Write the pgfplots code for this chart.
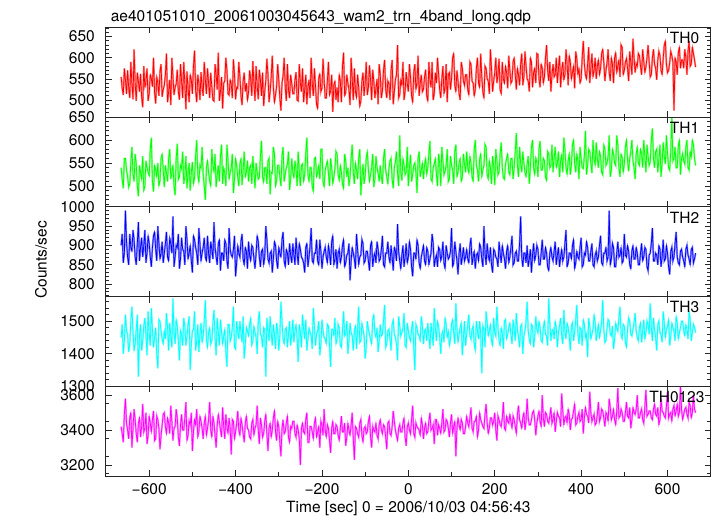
\documentclass[border=0pt]{standalone}
\usepackage{pgfplots}
\pgfplotsset{compat=1.18}
\usepackage{pgfplotstable}
\usepackage{fontspec}
\setmainfont{TeX Gyre Heros}
\newcommand{\qfont}{\fontsize{15.5bp}{18bp}\selectfont}

\pgfplotstableread{
t a b c d e
-665 555 540 900 1450 3420
-662.5 528 515 930 1490 3380
-660 512 495 855 1400 3330
-657.5 575 560 880 1440 3490
-655 548 560 990 1520 3580
-652.5 515 535 910 1470 3440
-650 570 520 870 1460 3400
-647.5 530 498 850 1405 3350
-645 505 505 930 1430 3470
-642.5 590 550 895 1500 3500
-640 538 585 885 1545 3300
-637.5 502 525 940 1465 3410
-635 620 510 915 1410 3520
-632.5 540 570 870 1430 3460
-630 498 548 850 1475 3380
-627.5 565 500 905 1520 3330
-625 545 478 960 1330 3440
-622.5 520 545 860 1455 3470
-620 562 530 895 1490 3360
-617.5 508 515 920 1410 3420
-615 483 565 870 1440 3550
-612.5 580 490 900 1485 3390
-610 530 500 940 1510 3410
-607.5 545 555 855 1460 3500
-605 575 540 880 1395 3320
-602.5 498 530 925 1530 3370
-600 515 522 905 1465 3480
-597.5 560 580 870 1425 3440
-595 551 605 845 1540 3390
-592.5 532 510 895 1475 3460
-590 600 488 925 1420 3510
-587.5 518 545 935 1450 3340
-585 492 535 890 1480 3350
-582.5 555 520 860 1400 3480
-580 540 550 950 1355 3460
-577.5 510 500 905 1505 3410
-575 568 512 865 1500 3290
-572.5 585 560 880 1470 3370
-570 508 570 910 1445 3430
-567.5 525 535 855 1430 3490
-565 535 498 880 1470 3500
-562.5 560 545 905 1445 3420
-560 610 528 935 1525 3380
-557.5 495 510 870 1480 3470
-555 520 560 860 1410 3440
-552.5 548 580 920 1495 3380
-550 488 515 905 1455 3540
-547.5 600 530 880 1420 3450
-545 556 545 975 1570 3340
-542.5 512 500 845 1465 3410
-540 530 480 870 1430 3420
-537.5 538 560 900 1505 3520
-535 572 592 895 1485 3470
-532.5 520 515 930 1440 3360
-530 501 520 840 1380 3310
-527.5 585 545 865 1470 3430
-525 545 538 920 1460 3490
-522.5 505 575 890 1425 3400
-520 590 505 885 1510 3400
-517.5 540 520 850 1485 3470
-515 478 565 950 1425 3560
-512.5 568 495 915 1455 3340
-510 528 530 865 1490 3370
-507.5 495 550 880 1515 3450
-505 560 490 900 1350 3430
-502.5 548 530 860 1430 3500
-500 515 552 830 1470 3280
-497.5 580 505 925 1475 3390
-495 617 518 915 1530 3460
-492.5 522 565 895 1410 3430
-490 495 600 880 1440 3520
-487.5 560 525 850 1490 3360
-485 540 508 945 1405 3390
-482.5 500 545 905 1460 3480
-480 566 540 860 1495 3450
-477.5 530 585 880 1435 3410
-475 510 525 895 1455 3350
-472.5 590 500 920 1500 3440
-470 548 470 870 1565 3480
-467.5 515 540 860 1445 3370
-465 575 555 925 1420 3410
-462.5 540 530 880 1465 3460
-460 505 512 855 1480 3560
-457.5 565 500 910 1430 3400
-455 532 580 890 1440 3360
-452.5 500 545 865 1495 3480
-450 498 530 960 1535 3440
-447.5 585 570 895 1450 3370
-445 560 498 870 1395 3300
-442.5 525 525 850 1510 3430
-440 612 545 905 1465 3490
-437.5 498 510 915 1425 3450
-435 520 565 835 1505 3400
-432.5 555 590 880 1470 3360
-430 480 505 880 1430 3530
-427.5 540 540 860 1455 3420
-425 545 528 915 1475 3350
-422.5 600 500 905 1405 3490
-420 570 590 860 1360 3420
-417.5 515 555 840 1490 3380
-415 512 515 945 1490 3470
-412.5 548 530 890 1440 3410
-410 538 540 875 1450 3260
-407.5 505 570 870 1480 3460
-405 596 485 890 1545 3450
-402.5 560 515 925 1420 3350
-400 502 560 820 1415 3390
-397.5 530 545 855 1500 3440
-395 528 520 900 1470 3510
-392.5 590 500 880 1445 3400
-390 555 548 870 1500 3370
-387.5 510 560 910 1465 3470
-385 488 502 930 1435 3430
-382.5 545 535 865 1515 3380
-380 565 575 850 1385 3330
-377.5 520 520 895 1430 3440
-375 540 530 885 1480 3480
-372.5 500 555 840 1470 3410
-370 518 510 910 1455 3400
-367.5 570 540 875 1490 3360
-365 550 545 860 1510 3350
-362.5 510 505 900 1425 3440
-360 592 565 895 1440 3460
-357.5 540 530 865 1485 3370
-355 498 495 840 1465 3410
-352.5 580 550 880 1450 3430
-350 535 530 925 1400 3540
-347.5 502 515 910 1500 3400
-345 572 518 870 1530 3320
-342.5 548 565 845 1460 3470
-340 510 598 885 1455 3430
-337.5 565 520 890 1420 3360
-335 486 508 850 1480 3380
-332.5 520 540 870 1475 3450
-330 546 540 950 1330 3490
-327.5 598 505 915 1510 3380
-325 560 555 865 1470 3280
-322.5 495 560 855 1440 3410
-320 520 482 880 1515 3440
-317.5 555 530 885 1465 3360
-315 605 528 830 1425 3400
-312.5 530 585 865 1490 3470
-310 495 570 910 1460 3510
-307.5 512 500 900 1415 3390
-305 532 512 860 1495 3340
-302.5 585 545 840 1470 3450
-300 548 545 895 1410 3420
-297.5 505 520 880 1455 3330
-295 475 500 870 1560 3250
-292.5 540 565 915 1500 3410
-290 558 585 935 1445 3460
-287.5 600 510 860 1430 3380
-285 530 525 845 1475 3390
-282.5 498 540 890 1480 3440
-280 585 548 880 1420 3480
-277.5 525 575 850 1460 3360
-275 505 492 905 1500 3330
-272.5 560 515 875 1425 3420
-270 540 560 855 1460 3410
-267.5 515 530 905 1505 3450
-265 515 518 875 1435 3450
-262.5 548 555 850 1470 3380
-260 566 535 920 1490 3360
-257.5 500 500 880 1450 3430
-255 498 575 850 1375 3400
-252.5 585 530 905 1490 3350
-250 540 500 890 1465 3200
-247.5 520 545 870 1420 3410
-245 575 548 865 1520 3440
-242.5 495 510 855 1475 3390
-240 525 525 830 1445 3380
-237.5 560 570 895 1505 3460
-235 490 605 905 1410 3500
-232.5 530 525 845 1445 3330
-230 548 510 870 1480 3330
-227.5 505 540 900 1465 3420
-225 600 540 945 1455 3420
-222.5 540 500 860 1415 3390
-220 510 488 855 1540 3350
-217.5 575 560 880 1485 3440
-215 535 562 880 1425 3470
-212.5 490 520 915 1460 3360
-210 480 530 860 1470 3390
-207.5 552 545 850 1500 3420
-205 562 515 915 1395 3300
-202.5 520 580 885 1430 3450
-200 528 580 840 1505 3430
-197.5 598 510 870 1470 3370
-195 548 498 885 1450 3520
-192.5 505 535 895 1445 3400
-190 505 545 870 1430 3360
-187.5 545 555 855 1490 3430
-185 590 528 900 1485 3410
-182.5 512 500 880 1425 3340
-180 522 560 850 1360 3270
-177.5 560 540 910 1475 3410
-175 472 505 925 1475 3450
-172.5 535 520 850 1455 3380
-170 545 538 865 1510 3380
-167.5 500 575 890 1430 3430
-165 530 570 840 1445 3420
-162.5 495 525 880 1490 3370
-160 560 512 890 1480 3340
-157.5 545 545 855 1425 3410
-155 495 530 870 1420 3480
-152.5 580 505 900 1470 3390
-150 612 495 915 1530 3390
-147.5 510 570 845 1455 3440
-145 518 555 855 1460 3310
-142.5 560 520 875 1500 3360
-140 540 540 880 1400 3440
-137.5 525 500 905 1440 3400
-135 488 520 810 1495 3370
-132.5 600 560 860 1465 3430
-130 552 590 895 1455 3500
-127.5 500 530 880 1410 3350
-125 575 505 865 1470 3230
-122.5 520 550 840 1485 3420
-120 506 535 930 1415 3410
-117.5 560 515 890 1475 3380
-115 530 560 850 1545 3360
-112.5 485 580 870 1435 3440
-110 498 480 875 1440 3460
-107.5 545 520 915 1495 3370
-105 565 548 905 1475 3330
-102.5 510 505 855 1455 3410
-100 540 522 860 1385 3420
-97.5 590 560 885 1420 3380
-95 512 575 885 1500 3390
-92.5 530 535 860 1475 3450
-90 582 510 835 1460 3480
-87.5 548 525 900 1445 3360
-85 500 540 910 1430 3300
-82.5 572 570 845 1505 3420
-80 545 498 870 1520 3400
-77.5 505 515 880 1465 3390
-75 528 565 855 1450 3440
-72.5 550 540 910 1480 3370
-70 490 528 890 1405 3350
-67.5 585 510 860 1440 3430
-65 560 545 865 1490 3460
-62.5 505 520 890 1455 3400
-60 522 505 925 1460 3380
-57.5 570 560 850 1500 3430
-55 595 580 845 1550 3420
-52.5 525 535 880 1420 3360
-50 505 520 880 1430 3290
-47.5 545 505 910 1470 3440
-45 538 538 870 1475 3450
-42.5 500 555 855 1445 3380
-40 570 560 900 1410 3370
-37.5 595 515 870 1490 3420
-35 490 495 835 1505 3510
-32.5 520 540 895 1460 3450
-30 548 552 885 1450 3400
-27.5 560 575 860 1430 3370
-25 630 528 955 1380 3340
-22.5 505 500 885 1515 3410
-20 512 610 860 1485 3430
-17.5 548 530 840 1455 3390
-15 535 512 875 1465 3390
-12.5 590 560 900 1480 3440
-10 500 545 845 1525 3470
-7.5 520 525 870 1425 3360
-5 566 530 905 1420 3310
-2.5 540 585 855 1495 3420
0 520 500 870 1470 3440
2.5 585 540 910 1450 3400
5 555 568 890 1440 3380
7.5 510 510 845 1475 3460
10 495 525 820 1500 3540
12.5 565 545 880 1420 3380
15 585 550 880 1350 3360
17.5 525 530 865 1490 3440
20 540 485 915 1480 3420
22.5 605 560 900 1460 3410
25 510 575 855 1455 3400
27.5 540 520 840 1440 3370
30 560 535 870 1515 3470
32.5 520 550 885 1485 3430
35 525 515 900 1430 3350
37.5 555 545 860 1470 3410
40 572 560 850 1475 3440
42.5 510 525 895 1440 3380
45 498 540 885 1495 3390
47.5 590 570 850 1455 3450
50 548 598 865 1415 3500
52.5 530 515 880 1495 3400
55 590 510 930 1460 3410
57.5 500 540 905 1425 3430
60 515 548 845 1540 3320
62.5 565 560 865 1480 3460
65 540 525 875 1440 3460
67.5 600 500 845 1500 3370
70 562 570 895 1485 3430
72.5 525 550 890 1450 3410
75 505 500 860 1400 3380
77.5 550 585 875 1460 3440
80 580 555 910 1470 3520
82.5 515 525 855 1435 3390
85 530 532 840 1510 3400
87.5 585 545 900 1490 3460
90 495 580 880 1450 3450
92.5 560 510 865 1470 3410
95 565 515 870 1425 3360
97.5 525 565 885 1445 3440
100 550 545 945 1490 3490
102.5 600 535 845 1505 3380
105 610 505 855 1465 3420
107.5 535 575 910 1430 3450
110 520 590 885 1555 3250
112.5 570 520 860 1475 3410
115 545 530 825 1435 3470
117.5 515 550 880 1460 3430
120 500 560 905 1480 3400
122.5 590 510 850 1495 3460
125 575 520 870 1395 3440
127.5 545 570 895 1450 3380
130 535 548 860 1500 3380
132.5 560 530 870 1425 3420
135 560 575 890 1460 3480
137.5 525 540 865 1490 3440
140 512 528 855 1520 3420
142.5 590 565 900 1455 3470
145 585 550 920 1445 3530
147.5 545 520 850 1475 3410
150 540 510 870 1485 3390
152.5 510 580 885 1430 3450
155 525 600 840 1410 3450
157.5 575 545 875 1500 3480
160 600 535 880 1470 3360
162.5 540 510 860 1445 3400
165 530 558 905 1500 3500
167.5 610 570 895 1465 3460
170 555 520 865 1340 3440
172.5 520 535 845 1485 3420
175 505 545 950 1475 3410
177.5 580 590 880 1420 3490
180 575 585 850 1530 3550
182.5 550 525 905 1495 3440
185 545 515 875 1455 3380
187.5 515 555 860 1470 3410
190 620 540 895 1490 3470
192.5 575 505 850 1440 3470
195 520 565 830 1425 3430
197.5 545 545 890 1510 3450
200 565 502 885 1465 3500
202.5 600 580 870 1455 3400
205 540 555 865 1545 3340
207.5 560 525 845 1480 3480
210 598 530 910 1440 3460
212.5 525 570 880 1425 3430
215 515 595 855 1480 3420
217.5 590 540 900 1465 3470
220 550 518 880 1415 3560
222.5 540 515 865 1500 3410
225 580 548 840 1505 3400
227.5 565 560 885 1445 3480
230 528 570 900 1460 3450
232.5 605 530 855 1480 3440
235 570 525 870 1495 3490
237.5 540 560 895 1460 3450
240 545 560 925 1430 3410
242.5 590 515 850 1505 3480
245 600 540 855 1475 3460
247.5 560 575 880 1440 3420
250 525 615 885 1525 3380
252.5 575 545 860 1475 3490
255 560 520 860 1450 3540
257.5 535 585 905 1420 3460
260 585 550 975 1485 3440
262.5 610 530 870 1490 3410
265 535 575 845 1400 3470
267.5 555 550 880 1455 3500
270 615 530 880 1470 3400
272.5 580 520 855 1500 3450
275 550 548 900 1560 3580
277.5 545 565 845 1470 3470
280 520 505 865 1445 3430
282.5 600 540 890 1430 3430
285 590 585 830 1490 3460
287.5 530 600 875 1485 3500
290 565 540 905 1420 3510
292.5 575 525 860 1450 3460
295 540 562 875 1515 3370
297.5 610 550 900 1475 3440
300 608 520 890 1465 3480
302.5 550 580 850 1500 3510
305 530 598 850 1480 3450
307.5 585 535 880 1440 3420
310 575 535 915 1435 3600
312.5 540 560 865 1480 3470
315 555 555 865 1500 3420
317.5 600 520 895 1460 3500
320 630 512 880 1455 3490
322.5 570 575 845 1425 3450
325 545 570 835 1570 3440
327.5 590 540 880 1495 3480
330 520 545 895 1440 3530
332.5 560 590 870 1470 3440
335 585 530 860 1475 3460
337.5 555 560 885 1445 3500
340 560 585 910 1500 3390
342.5 600 540 850 1480 3450
345 540 550 875 1420 3500
347.5 575 575 895 1465 3480
350 605 520 845 1485 3470
352.5 530 555 870 1510 3420
355 570 568 890 1455 3610
357.5 590 530 860 1430 3510
360 548 605 870 1535 3430
362.5 560 580 905 1470 3470
365 620 540 940 1445 3480
367.5 585 525 845 1495 3440
370 535 555 855 1480 3520
372.5 605 570 880 1455 3490
375 590 525 880 1410 3400
377.5 550 545 865 1485 3460
380 565 590 900 1495 3470
382.5 580 600 915 1440 3510
385 528 548 840 1465 3550
387.5 615 530 855 1505 3430
390 598 570 885 1550 3440
392.5 560 555 870 1465 3480
395 575 515 865 1430 3500
397.5 540 585 895 1480 3450
400 550 560 920 1475 3460
402.5 600 540 845 1425 3520
405 640 538 850 1505 3380
407.5 585 565 880 1490 3470
410 560 620 875 1450 3530
412.5 550 525 910 1460 3490
415 585 545 895 1390 3480
417.5 625 580 860 1510 3440
420 540 575 860 1485 3620
422.5 575 550 885 1445 3500
425 610 528 905 1460 3450
427.5 555 600 850 1475 3470
430 570 560 845 1520 3490
432.5 600 545 875 1495 3430
435 550 595 885 1440 3440
437.5 580 560 860 1465 3490
440 595 540 870 1490 3560
442.5 560 575 900 1450 3450
445 575 565 925 1470 3470
447.5 610 530 855 1500 3520
450 620 525 850 1565 3510
452.5 590 590 880 1475 3470
455 545 580 880 1435 3420
457.5 570 545 895 1440 3500
460 588 550 860 1480 3490
462.5 620 565 870 1505 3450
465 565 610 990 1500 3580
467.5 545 520 850 1460 3530
470 600 535 865 1455 3460
472.5 585 580 905 1485 3480
475 540 570 895 1415 3520
477.5 600 550 845 1445 3460
480 612 545 845 1495 3430
482.5 565 610 880 1480 3510
485 580 590 910 1470 3640
487.5 595 540 870 1510 3470
490 555 520 875 1545 3480
492.5 630 570 895 1460 3520
495 625 562 855 1445 3500
497.5 560 530 860 1490 3450
500 570 548 930 1485 3450
502.5 590 585 875 1435 3500
505 598 600 870 1420 3560
507.5 575 555 900 1475 3480
510 545 532 885 1510 3470
512.5 615 560 850 1500 3530
515 590 575 840 1460 3410
517.5 560 600 885 1455 3460
520 645 555 900 1475 3530
522.5 600 540 865 1495 3500
525 565 515 865 1525 3490
527.5 585 570 895 1470 3520
530 580 585 880 1450 3600
532.5 610 550 850 1440 3470
535 605 545 850 1480 3470
537.5 580 580 880 1495 3500
540 560 570 905 1435 3520
542.5 620 540 860 1470 3460
545 592 600 870 1505 3440
547.5 565 565 895 1445 3530
550 578 530 890 1465 3630
552.5 600 590 845 1500 3480
555 630 565 835 1490 3490
557.5 590 545 875 1460 3510
560 555 552 880 1555 3510
562.5 560 600 905 1480 3470
565 600 625 945 1440 3460
567.5 620 560 860 1510 3520
570 585 540 860 1475 3550
572.5 575 575 880 1450 3490
575 548 580 875 1410 3480
577.5 595 530 850 1490 3530
580 615 558 900 1500 3430
582.5 605 590 890 1465 3460
585 570 520 845 1460 3580
587.5 560 550 870 1435 3510
590 598 595 915 1530 3500
592.5 630 565 860 1495 3480
595 640 548 865 1450 3470
597.5 585 610 900 1475 3540
600 565 572 880 1485 3620
602.5 570 540 845 1505 3470
605 588 535 825 1425 3490
607.5 615 575 885 1455 3500
610 605 650 895 1495 3450
612.5 590 555 860 1480 3520
615 475 560 870 1470 3540
617.5 600 585 905 1440 3480
620 590 540 935 1515 3510
622.5 560 540 870 1495 3550
625 612 588 855 1445 3480
627.5 625 600 850 1465 3500
630 575 525 885 1480 3650
632.5 595 560 890 1500 3520
635 595 570 870 1500 3460
637.5 575 555 860 1470 3490
640 620 548 845 1455 3520
642.5 600 585 890 1490 3530
645 560 600 900 1475 3490
647.5 615 540 875 1445 3470
650 640 535 865 1530 3560
652.5 580 575 850 1505 3540
655 585 562 890 1440 3470
657.5 625 600 895 1465 3500
660 610 590 855 1490 3600
662.5 595 560 865 1480 3520
665 578 545 880 1465 3500
}\data

\definecolor{qred}{RGB}{255,0,0}
\definecolor{qgreen}{RGB}{0,255,0}
\definecolor{qblue}{RGB}{0,0,255}
\definecolor{qcyan}{RGB}{0,255,255}
\definecolor{qmag}{RGB}{255,0,255}

\pgfplotsset{
  panel/.style={
    scale only axis, width=604.7bp, height=89.74bp,
    anchor=south west,
    xmin=-700, xmax=700,
    xtick={-600,-400,...,600}, minor xtick={-500,-300,...,500},
    xticklabels={},
    tick align=inside, xtick pos=both, ytick pos=both,
    major tick length=6bp, minor tick length=3.5bp,
    every tick/.style={black!85, line width=0.8bp},
    axis line style={black!85, line width=1bp},
    tick label style={font=\qfont},
    yticklabel style={anchor=east, inner sep=0pt, xshift=-11bp},
    xticklabel style={anchor=north, inner sep=0pt, yshift=-7bp},
    /pgf/number format/1000 sep={},
    /pgf/number format/assume math mode=true,
    axis on top,
  },
  halo/.style={draw=#1!45!white, line width=1.9bp, mark=none, line join=miter, miter limit=6},
  ln/.style={draw=#1, line width=0.7bp, mark=none},
}

\begin{document}
\begin{tikzpicture}[font=\qfont]
\path[use as bounding box] (-106bp,-40bp) rectangle (611bp,476bp);

\begin{axis}[panel, at={(0,358.96bp)}, ymin=460, ymax=672,
  ytick={500,550,600,650}, minor ytick={470,480,...,670}]
\addplot[halo=qred] table[x=t,y=a]{\data};
\addplot[ln=qred] table[x=t,y=a]{\data};
\node[anchor=base east, xshift=-8bp, yshift=-16.3bp] at (rel axis cs:1,1) {TH0};
\end{axis}

\begin{axis}[panel, at={(0,269.22bp)}, ymin=455, ymax=650,
  ytick={500,550,600,650}, minor ytick={460,470,...,640}]
\addplot[halo=qgreen] table[x=t,y=b]{\data};
\addplot[ln=qgreen] table[x=t,y=b]{\data};
\node[anchor=base east, xshift=-8bp, yshift=-16.3bp] at (rel axis cs:1,1) {TH1};
\end{axis}

\begin{axis}[panel, at={(0,179.48bp)}, ymin=768, ymax=1000,
  ytick={800,850,900,950,1000}, minor ytick={770,780,...,990}]
\addplot[halo=qblue] table[x=t,y=c]{\data};
\addplot[ln=qblue] table[x=t,y=c]{\data};
\node[anchor=base east, xshift=-8bp, yshift=-16.3bp] at (rel axis cs:1,1) {TH2};
\end{axis}

\begin{axis}[panel, at={(0,89.74bp)}, ymin=1300, ymax=1576,
  ytick={1300,1400,1500}, minor ytick={1320,1340,...,1560}]
\addplot[halo=qcyan] table[x=t,y=d]{\data};
\addplot[ln=qcyan] table[x=t,y=d]{\data};
\node[anchor=base east, xshift=-8bp, yshift=-16.3bp] at (rel axis cs:1,1) {TH3};
\end{axis}

\begin{axis}[panel, at={(0,0)}, ymin=3137, ymax=3651,
  ytick={3200,3400,3600}, minor ytick={3150,3250,...,3650},
  xticklabels={−600,−400,−200,0,200,400,600}]
\addplot[halo=qmag] table[x=t,y=e]{\data};
\addplot[ln=qmag] table[x=t,y=e]{\data};
\node[anchor=base east, xshift=-2.7bp, yshift=-16.7bp] at (rel axis cs:1,1) {TH0123};
\end{axis}

\node[anchor=base west] at (1.3bp,454.3bp) {ae401051010\_20061003045643\_wam2\_trn\_4band\_long.qdp};
\node[anchor=base] at (302.35bp,-36bp) {Time [sec] 0 = 2006/10/03 04:56:43};
\node[anchor=base, rotate=90] at (-59.3bp,216bp) {Counts/sec};
\end{tikzpicture}
\end{document}
